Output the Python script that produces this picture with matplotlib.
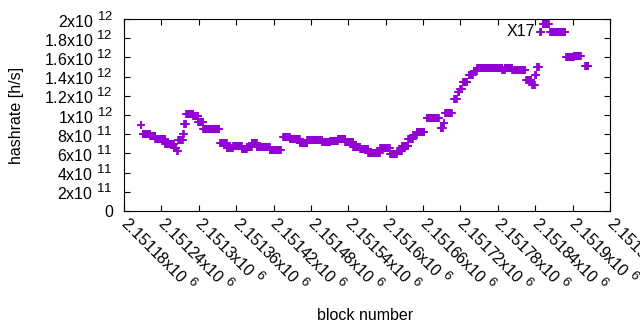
import numpy as np
import matplotlib
matplotlib.use("Agg")
import matplotlib.pyplot as plt
from matplotlib.ticker import FixedLocator
try:
    import matplotlib._mathtext as _mt
    _mt.SHRINK_FACTOR = 0.82
except Exception:
    pass

plt.rcParams['font.family'] = ['Liberation Sans', 'DejaVu Sans']
plt.rcParams['mathtext.fontset'] = 'custom'
plt.rcParams['mathtext.rm'] = 'Liberation Sans'
plt.rcParams['mathtext.it'] = 'Liberation Sans'

BASE_BLOCK = 2151180
# runs of constant hashrate: first block offset, last block offset, hashrate (x1e11)
run_first = [27, 30, 42, 50, 66, 80, 85, 87, 95, 97, 100, 111, 119, 127, 154, 165, 175,
             189, 197, 205, 213, 234, 255, 266, 282, 294, 318, 331, 343, 355, 368, 379,
             392, 411, 427, 438, 446, 456, 464, 470, 486, 508, 513, 515, 530, 536, 540,
             544, 553, 561, 567, 607, 611, 623, 645, 655, 660, 663, 668, 672, 684, 707,
             710, 722, 740]
run_last = [28, 42, 50, 66, 80, 84, 86, 94, 96, 99, 111, 119, 127, 153, 165, 175, 189,
            197, 205, 213, 234, 252, 266, 282, 294, 318, 331, 343, 355, 368, 379, 392,
            411, 427, 438, 446, 456, 464, 470, 482, 505, 512, 514, 526, 534, 538, 542,
            551, 560, 566, 607, 611, 623, 644, 654, 659, 662, 666, 670, 682, 705, 708,
            722, 733, 745]
run_value = [9.0, 8.0, 7.8, 7.5, 7.0, 6.6, 6.3, 7.4, 8.0, 9.1, 10.1, 9.9, 9.3, 8.5, 7.1,
             6.6, 6.8, 6.5, 6.7, 7.1, 6.7, 6.4, 7.7, 7.5, 7.1, 7.4, 7.2, 7.3, 7.5, 7.2,
             6.7, 6.5, 6.0, 6.6, 5.9, 6.25, 6.8, 7.5, 7.9, 8.2, 9.7, 8.6, 9.2, 10.2, 11.7,
             12.4, 12.7, 13.4, 14.2, 14.6, 14.9, 14.7, 14.9, 14.7, 13.6, 13.1, 14.2, 15.0,
             18.6, 19.5, 18.6, 18.6, 16.0, 16.1, 15.1]

x_ticks = [2151180, 2151240, 2151300, 2151360, 2151420, 2151480, 2151540, 2151600,
           2151660, 2151720, 2151780, 2151840, 2151900, 2151960]
x_tick_labels = ['2.15118', '2.15124', '2.1513', '2.15136', '2.15142', '2.15148', '2.15154',
                 '2.1516', '2.15166', '2.15172', '2.15178', '2.15184', '2.1519', '2.15196']
y_ticks = [0, 2e11, 4e11, 6e11, 8e11, 1e12, 1.2e12, 1.4e12, 1.6e12, 1.8e12, 2e12]
y_tick_labels = ['0', '2x10 $^{11}$', '4x10 $^{11}$', '6x10 $^{11}$', '8x10 $^{11}$',
                 '1x10 $^{12}$', '1.2x10 $^{12}$', '1.4x10 $^{12}$', '1.6x10 $^{12}$',
                 '1.8x10 $^{12}$', '2x10 $^{12}$']
label_text = 'X17'
label_block = 2151840
label_value = 1.865e12

blocks = []
values = []
for a, b, v in zip(run_first, run_last, run_value):
    for k in range(a, b + 1):
        blocks.append(BASE_BLOCK + k)
        values.append(v * 1e11)

FS = 11.5
fig = plt.figure(figsize=(6.4, 3.3), dpi=100)
ax = fig.add_axes([124 / 640, 1 - 211 / 330, 486 / 640, 192 / 330])
ax.plot(blocks, values, linestyle='none', marker='+', markersize=6, mew=1.2,
        color='#9400d3')
ax.set_xlim(x_ticks[0], x_ticks[-1])
ax.set_ylim(0, 2e12)
ax.xaxis.set_major_locator(FixedLocator(x_ticks))
ax.yaxis.set_major_locator(FixedLocator(y_ticks))
ax.set_yticklabels(y_tick_labels)
ax.set_xticklabels([s + 'x10 $^{6}$' for s in x_tick_labels])
ax.tick_params(direction='in', length=4, width=0.8, top=True, right=True,
               labelsize=FS, colors='black')
ax.tick_params(axis='y', pad=8)
for lab in ax.get_xticklabels():
    lab.set_rotation(-45)
    lab.set_ha('left')
    lab.set_va('center')
    lab.set_rotation_mode('anchor')
ax.tick_params(axis='x', pad=6)
for s in ax.spines.values():
    s.set_linewidth(0.8)
ax.text(label_block, label_value, label_text, ha='right', va='center', fontsize=FS)
ax.set_ylabel('hashrate [h/s]', fontsize=FS)
ax.yaxis.set_label_coords((24 - 124) / 486, 0.5)
fig.text(365 / 640, 1 - 315 / 330, 'block number', ha='center', va='center', fontsize=FS)
fig.savefig('out.png', dpi=100)
